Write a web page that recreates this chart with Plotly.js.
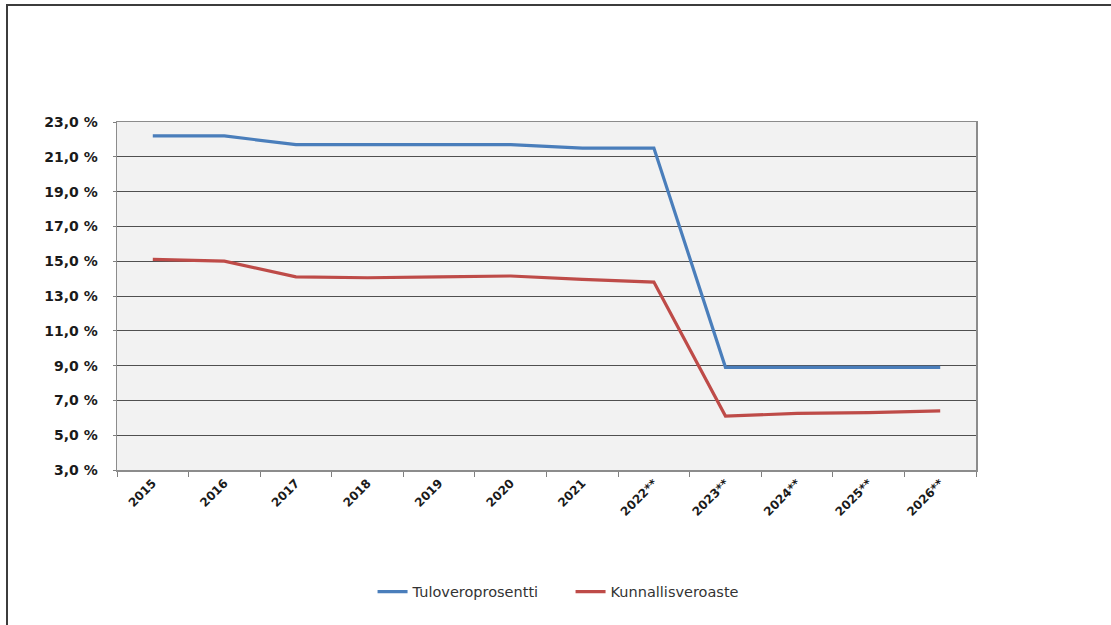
<!DOCTYPE html>
<html>
<head>
<meta charset="utf-8">
<script src="https://cdn.plot.ly/plotly-3.0.1.min.js"></script>
<style>
  html, body { margin: 0; padding: 0; background: #fff; }
  #wrap { position: relative; width: 1111px; height: 625px; overflow: hidden; }
  #chart { position: absolute; left: 0; top: 0; width: 1111px; height: 625px; }
  #frame { position: absolute; left: 6px; top: 4px; width: 1200px; height: 700px;
           border-left: 2px solid #3c3c3c; border-top: 2px solid #3c3c3c; pointer-events: none; }
</style>
</head>
<body>
<div id="wrap">
  <div id="chart"></div>
  <div id="frame"></div>
</div>
<script>
const years = ["2015", "2016", "2017", "2018", "2019", "2020", "2021", "2022**", "2023**", "2024**", "2025**", "2026**"];
const tuloveroprosentti = [22.2, 22.2, 21.7, 21.7, 21.7, 21.7, 21.5, 21.5, 8.9, 8.9, 8.9, 8.9];
const kunnallisveroaste = [15.1, 15.0, 14.1, 14.05, 14.1, 14.15, 13.95, 13.8, 6.1, 6.25, 6.3, 6.4];
const yTicks = [3, 5, 7, 9, 11, 13, 15, 17, 19, 21, 23];
const yTickLabels = ["3,0 %", "5,0 %", "7,0 %", "9,0 %", "11,0 %", "13,0 %", "15,0 %", "17,0 %", "19,0 %", "21,0 %", "23,0 %"];

const traces = [
  { x: years, y: tuloveroprosentti, name: "Tuloveroprosentti", type: "scatter", mode: "lines",
    line: { color: "#4a7ebb", width: 3.2 } },
  { x: years, y: kunnallisveroaste, name: "Kunnallisveroaste", type: "scatter", mode: "lines",
    line: { color: "#be4b48", width: 3.2 } }
];

const layout = {
  width: 1111, height: 625,
  margin: { l: 117, r: 135, t: 122, b: 155, pad: 0 },
  paper_bgcolor: "rgba(0,0,0,0)",
  plot_bgcolor: "#f2f2f2",
  showlegend: true,
  legend: { orientation: "h", x: 0.528, xanchor: "center", y: -0.35, yanchor: "middle",
            font: { family: "DejaVu Sans, sans-serif", size: 14.5, color: "#333" },
            entrywidth: 153, entrywidthmode: "pixels",
            itemwidth: 30, tracegroupgap: 0 },
  xaxis: {
    type: "category",
    range: [-0.5, 11.5],
    tickangle: -45,
    tickfont: { family: "DejaVu Sans, sans-serif", size: 12, color: "#1a1a1a", weight: "bold" },
    ticks: "outside", tickson: "boundaries", ticklen: 5, tickcolor: "#7f7f7f", tickwidth: 1,
    showline: true, linecolor: "#8c8c8c", linewidth: 1.5, mirror: true,
    showgrid: false, zeroline: false, fixedrange: true
  },
  yaxis: {
    range: [3, 23],
    tickmode: "array",
    tickvals: yTicks,
    ticktext: yTickLabels,
    tickfont: { family: "DejaVu Sans, sans-serif", size: 14, color: "#1a1a1a", weight: "bold" },
    ticks: "outside", ticklen: 3, tickcolor: "#7f7f7f", ticklabelstandoff: 12,
    showline: true, linecolor: "#8c8c8c", linewidth: 1.5, mirror: true,
    showgrid: true, gridcolor: "#505050", gridwidth: 1,
    zeroline: false, fixedrange: true
  }
};

Plotly.newPlot("chart", traces, layout, { staticPlot: true, displayModeBar: false });
</script>
</body>
</html>
